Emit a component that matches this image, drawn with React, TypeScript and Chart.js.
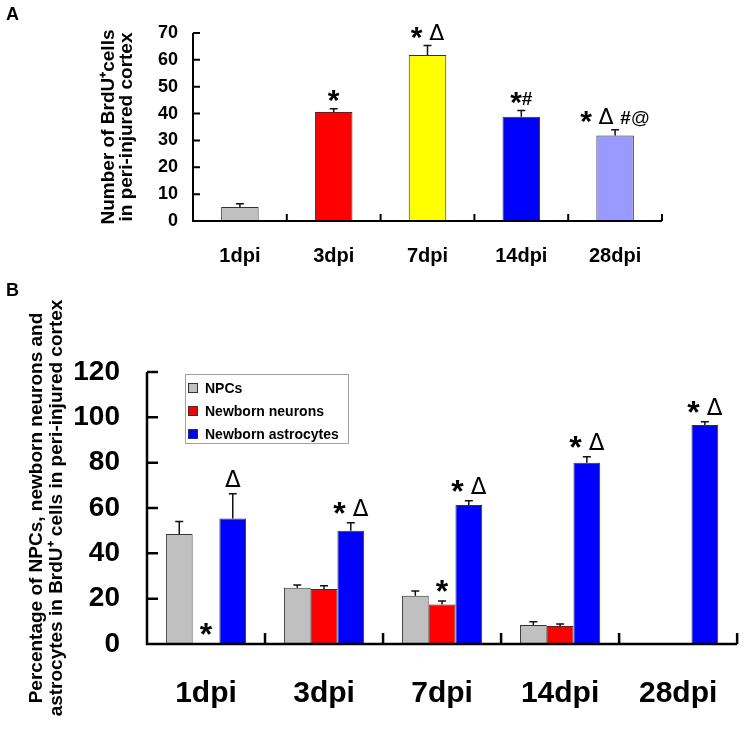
import React, { useEffect, useRef } from "react";
import { Chart, registerables } from "chart.js";
Chart.register(...registerables);

// ---------- Data: panel A ----------
const daysA = ["1dpi", "3dpi", "7dpi", "14dpi", "28dpi"];
const brduCounts = [5.2, 40.6, 61.8, 38.8, 31.8];
const brduErrors = [1.2, 1.2, 3.5, 2.3, 2.2];
const brduColors = ["#c0c0c0", "#ff0000", "#ffff00", "#0000ff", "#9999ff"];
const brduMarks = ["", "*", "* Δ", "*#", "* Δ #@"];
const yTitleA = ["Number of BrdU⁺cells", "in peri-injured cortex"];

// ---------- Data: panel B ----------
const daysB = ["1dpi", "3dpi", "7dpi", "14dpi", "28dpi"];
const seriesB = ["NPCs", "Newborn neurons", "Newborn astrocytes"];
const colorsB = ["#c0c0c0", "#ff0000", "#0000ff"];
const npcPct = [48.5, 24.8, 21.3, 8.4, null];
const npcErr = [5.5, 1.2, 2.1, 1.4, null];
const neuronPct = [0, 24.3, 17.4, 7.9, null];
const neuronErr = [0, 1.4, 1.6, 0.9, null];
const astroPct = [55.4, 50.0, 61.3, 80.0, 96.6];
const astroErr = [10.9, 3.5, 1.9, 2.6, 1.4];
const npcMarks = ["", "", "", "", ""];
const neuronMarks = ["*", "", "*", "", ""];
const astroMarks = ["Δ", "* Δ", "* Δ", "* Δ", "* Δ"];
const yTitleB = [
  "Percentage of NPCs, newborn neurons and",
  "astrocytes in BrdU⁺ cells in peri-injured cortex",
];

const FAM = '"Liberation Sans", Arial, Helvetica, sans-serif';
const DFAM = '"DejaVu Sans", "Liberation Sans", sans-serif';

function drawMark(ctx: CanvasRenderingContext2D, text: string, cx: number, baseY: number, s: number) {
  const parts = Array.from(text).map((ch) => {
    if (ch === " ") return { ch, font: "", dy: 0, w: s * 0.35 };
    let font = `${s}px ${FAM}`;
    let dy = 0;
    if (ch === "*") {
      font = `bold ${Math.round(s * 1.6)}px ${FAM}`;
      dy = s * 0.4;
    } else if (ch === "Δ") {
      font = `${Math.round(s * 1.15)}px ${DFAM}`;
    } else if (ch === "#") {
      font = `bold ${s}px ${FAM}`;
    }
    ctx.font = font;
    return { ch, font, dy, w: ctx.measureText(ch).width };
  });
  const total = parts.reduce((a, p) => a + p.w, 0);
  let x = cx - total / 2;
  ctx.textAlign = "left";
  ctx.textBaseline = "alphabetic";
  ctx.fillStyle = "#000";
  parts.forEach((p) => {
    if (p.ch !== " ") {
      ctx.font = p.font;
      ctx.fillText(p.ch, x, baseY + p.dy);
    }
    x += p.w;
  });
}

function errMarkPlugin(errs: (number | null)[][], marks: string[][], cfg: { cap: number; lw: number; gap: number; size: number }) {
  return {
    id: "errMarks",
    afterDatasetsDraw(chart: any) {
      const ctx = chart.ctx as CanvasRenderingContext2D;
      const ys = chart.scales.y;
      ctx.save();
      chart.data.datasets.forEach((ds: any, i: number) => {
        const meta = chart.getDatasetMeta(i);
        ds.data.forEach((v: number | null, j: number) => {
          if (v == null) return;
          const bar = meta.data[j] as any;
          const x = bar.x;
          const e = errs[i][j] ?? 0;
          const yTop = ys.getPixelForValue(v + e);
          if (e > 0) {
            ctx.strokeStyle = "#111";
            ctx.lineWidth = cfg.lw;
            ctx.beginPath();
            ctx.moveTo(x, ys.getPixelForValue(v));
            ctx.lineTo(x, yTop);
            ctx.moveTo(x - cfg.cap / 2, yTop);
            ctx.lineTo(x + cfg.cap / 2, yTop);
            ctx.stroke();
          }
          const m = marks[i][j];
          if (m) drawMark(ctx, m, x, yTop - cfg.gap, cfg.size);
        });
      });
      ctx.restore();
    },
  };
}

function axesPlugin(lw: number, tickLen: number) {
  return {
    id: "axesDraw",
    afterDatasetsDraw(chart: any) {
      const ctx = chart.ctx as CanvasRenderingContext2D;
      const { left, right, top, bottom } = chart.chartArea;
      const xs = chart.scales.x;
      const ys = chart.scales.y;
      ctx.save();
      ctx.strokeStyle = "#000";
      ctx.lineWidth = lw;
      ctx.lineCap = "butt";
      ctx.lineJoin = "miter";
      ctx.beginPath();
      ctx.moveTo(left, top);
      ctx.lineTo(left, bottom);
      ctx.lineTo(right, bottom);
      ctx.stroke();
      ctx.beginPath();
      ys.ticks.forEach((t: any) => {
        if (t.value === 0) return;
        const y = ys.getPixelForValue(t.value);
        ctx.moveTo(left, y);
        ctx.lineTo(left + tickLen, y);
      });
      const n = chart.data.labels.length;
      for (let i = 1; i <= n; i++) {
        const x = xs.getPixelForValue(i - 0.5);
        ctx.moveTo(x, bottom);
        ctx.lineTo(x, bottom - tickLen);
      }
      ctx.stroke();
      ctx.restore();
    },
  };
}

const legendPlugin = {
  id: "boxLegend",
  afterDraw(chart: any) {
    const ctx = chart.ctx as CanvasRenderingContext2D;
    const { left, top } = chart.chartArea;
    const bx = left + 38;
    const by = top + 2;
    const bw = 163;
    const bh = 69;
    ctx.save();
    ctx.fillStyle = "#fff";
    ctx.fillRect(bx, by, bw, bh);
    ctx.strokeStyle = "#a0a0a0";
    ctx.lineWidth = 1;
    ctx.strokeRect(bx + 0.5, by + 0.5, bw, bh);
    chart.data.datasets.forEach((ds: any, i: number) => {
      const cy = by + 14 + i * 23;
      ctx.fillStyle = ds.backgroundColor;
      ctx.fillRect(bx + 3, cy - 5, 10, 10);
      ctx.strokeStyle = "#333";
      ctx.strokeRect(bx + 3.5, cy - 4.5, 9, 9);
      ctx.fillStyle = "#000";
      ctx.font = `bold 14px ${FAM}`;
      ctx.textAlign = "left";
      ctx.textBaseline = "middle";
      ctx.fillText(ds.label, bx + 20, cy + 1);
    });
    ctx.restore();
  },
};

function PanelA() {
  const ref = useRef<HTMLCanvasElement>(null);
  useEffect(() => {
    const chart = new Chart(ref.current!, {
      type: "bar",
      data: {
        labels: daysA,
        datasets: [
          {
            label: "BrdU⁺ cells",
            data: brduCounts,
            backgroundColor: brduColors,
            borderColor: "#333",
            borderWidth: 1,
            categoryPercentage: 0.4,
            barPercentage: 1,
          },
        ],
      },
      options: {
        responsive: false,
        animation: false,
        events: [],
        layout: { padding: { top: 33, right: 88, left: 0, bottom: 0 } },
        plugins: { legend: { display: false }, tooltip: { enabled: false } },
        scales: {
          x: {
            grid: { display: false, drawTicks: false },
            border: { display: false },
            ticks: { color: "#000", font: { family: FAM, size: 20, weight: "bold" }, padding: 23 },
            afterFit: (s: any) => {
              s.height = 69;
            },
          },
          y: {
            min: 0,
            max: 70,
            grid: { display: false, drawTicks: false },
            border: { display: false },
            ticks: { stepSize: 10, color: "#000", font: { family: FAM, size: 18, weight: "bold" }, padding: 15 },
            title: {
              display: true,
              text: yTitleA,
              color: "#000",
              font: { family: FAM, size: 19, weight: "bold", lineHeight: 0.95 },
              padding: { top: 100, bottom: 0 },
            },
            afterFit: (s: any) => {
              s.width = 193;
            },
          },
        },
      } as any,
      plugins: [errMarkPlugin([brduErrors], [brduMarks], { cap: 8, lw: 1.5, gap: 6, size: 19 }), axesPlugin(2, 7)],
    });
    return () => chart.destroy();
  }, []);
  return <canvas ref={ref} width={750} height={290} style={{ position: "absolute", left: 0, top: 0, width: 750, height: 290 }} />;
}

function PanelB() {
  const ref = useRef<HTMLCanvasElement>(null);
  useEffect(() => {
    const vals = [npcPct, neuronPct, astroPct];
    const chart = new Chart(ref.current!, {
      type: "bar",
      data: {
        labels: daysB,
        datasets: seriesB.map((name, i) => ({
          label: name,
          data: vals[i],
          backgroundColor: colorsB[i],
          borderColor: "#333",
          borderWidth: 1,
          categoryPercentage: 0.68,
          barPercentage: 1,
        })),
      },
      options: {
        responsive: false,
        animation: false,
        events: [],
        layout: { padding: { top: 82, right: 7, left: 0, bottom: 0 } },
        plugins: { legend: { display: false }, tooltip: { enabled: false } },
        scales: {
          x: {
            grid: { display: false, drawTicks: false },
            border: { display: false },
            ticks: { color: "#000", font: { family: FAM, size: 30, weight: "bold" }, padding: 32 },
            afterFit: (s: any) => {
              s.height = 93;
            },
          },
          y: {
            min: 0,
            max: 120,
            grid: { display: false, drawTicks: false },
            border: { display: false },
            ticks: { stepSize: 20, color: "#000", font: { family: FAM, size: 28, weight: "bold" }, padding: 27 },
            title: {
              display: true,
              text: yTitleB,
              color: "#000",
              font: { family: FAM, size: 19, weight: "bold", lineHeight: 1.09 },
              padding: { top: 26, bottom: 0 },
            },
            afterFit: (s: any) => {
              s.width = 147;
            },
          },
        },
      } as any,
      plugins: [
        errMarkPlugin([npcErr, neuronErr, astroErr], [npcMarks, neuronMarks, astroMarks], { cap: 8, lw: 1.5, gap: 7, size: 20 }),
        axesPlugin(2.5, 11),
        legendPlugin,
      ],
    });
    return () => chart.destroy();
  }, []);
  return <canvas ref={ref} width={750} height={447} style={{ position: "absolute", left: 0, top: 290, width: 750, height: 447 }} />;
}

export default function App() {
  const lab: React.CSSProperties = {
    position: "absolute",
    left: 6,
    fontFamily: FAM,
    fontWeight: "bold",
    fontSize: 18,
    lineHeight: "18px",
    color: "#000",
  };
  return (
    <div style={{ position: "absolute", left: 0, top: 0, width: 750, height: 737, background: "#fff", overflow: "hidden" }}>
      <PanelA />
      <PanelB />
      <div style={{ ...lab, top: 5 }}>A</div>
      <div style={{ ...lab, top: 281 }}>B</div>
    </div>
  );
}
